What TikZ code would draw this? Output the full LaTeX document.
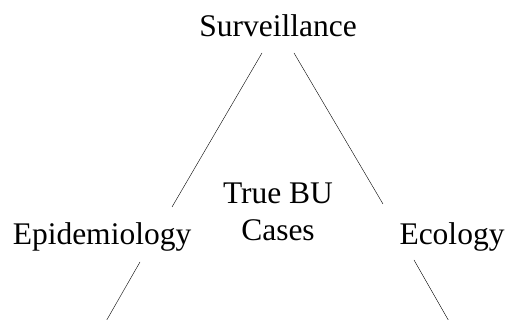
\documentclass[tikz,border=0pt]{standalone}
\usepackage{fontspec}
\setmainfont{Liberation Serif}
\usetikzlibrary{
  calc,         % Calculations $...$
}
\tikzset{
  x=1pt,
  y=1pt,
  line width=2pt,
  my label/.style={
    font=\fontsize{31.5}{37}\selectfont,
    inner sep=0pt,
    anchor=base
  },
  my side/.style={
    draw,
    line cap=butt
  }
}

\begin{document}
\begin{tikzpicture}
\useasboundingbox (0,0) rectangle (507,320);
\node[my label]              (surv)  at (278,283) {Surveillance};
\node[my label]              (epi)   at (102,75)  {Epidemiology};
\node[my label]              (eco)   at (452,75)  {Ecology};
\node[my label,align=center] (cases) at (278,79)  {True BU\\Cases};
% sides of the triangle, broken by the labels
\coordinate (l1) at (262,267);
\coordinate (l2) at (172,113);
\coordinate (l3) at (140,58);
\coordinate (l4) at (101,-10);
\coordinate (r1) at (294,267);
\coordinate (r2) at (383,116);
\coordinate (r3) at (414,60);
\coordinate (r4) at (454,-10);
\path[my side] (l1) -- (l2)
               (l3) -- (l4)
               (r1) -- (r2)
               (r3) -- (r4);
\end{tikzpicture}
\end{document}
